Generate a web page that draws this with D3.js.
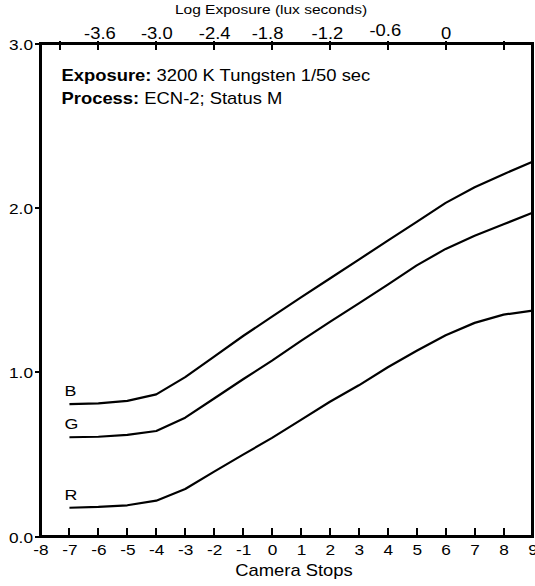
<!DOCTYPE html>
<html>
<head>
<meta charset="utf-8">
<script src="https://cdn.jsdelivr.net/npm/d3@7"></script>
<style>
  html, body { margin: 0; padding: 0; background: #fff; }
  svg { display: block; }
  text { font-family: "Liberation Sans", Arial, Helvetica, sans-serif; fill: #000; }
</style>
</head>
<body>
<svg id="chart" width="535" height="586"></svg>
<script>
// ---------------- data ----------------
const stops = [-7, -6, -5, -4, -3, -2, -1, 0, 1, 2, 3, 4, 5, 6, 7, 8, 9];
const blueDensity  = [0.805, 0.81, 0.825, 0.865, 0.97, 1.095, 1.22, 1.338, 1.455, 1.57, 1.685, 1.80, 1.915, 2.03, 2.125, 2.205, 2.28];
const greenDensity = [0.604, 0.607, 0.618, 0.642, 0.723, 0.84, 0.957, 1.07, 1.19, 1.306, 1.419, 1.533, 1.65, 1.75, 1.83, 1.90, 1.97];
const redDensity   = [0.175, 0.18, 0.19, 0.218, 0.289, 0.395, 0.498, 0.60, 0.71, 0.82, 0.92, 1.03, 1.13, 1.225, 1.30, 1.35, 1.375];
const seriesNames  = ["B", "G", "R"];

const stopTicks = [-8, -7, -6, -5, -4, -3, -2, -1, 0, 1, 2, 3, 4, 5, 6, 7, 8, 9];
const logETicks  = [-4.0, -3.6, -3.0, -2.4, -1.8, -1.2, -0.6, 0, 0.6];
const logELabels = ["", "-3.6", "-3.0", "-2.4", "-1.8", "-1.2", "-0.6", "0", ""];
const densityTicks  = [0, 1, 2, 3];
const densityLabels = ["0.0", "1.0", "2.0", "3.0"];

const xTitle = "Camera Stops";
const topTitle = "Log Exposure (lux seconds)";
const noteExposureKey = "Exposure:";
const noteExposureVal = " 3200 K Tungsten 1/50 sec";
const noteProcessKey = "Process:";
const noteProcessVal = " ECN-2; Status M";

// ---------------- layout ----------------
const SX = 1.15; // horizontal text stretch seen in the reference
const L = 40.5, R = 532.5, T = 43.5, B = 536.5;

const svg = d3.select("#chart");
const x = d3.scaleLinear().domain([-8, 9]).range([L, R]);
const y = d3.scaleLinear().domain([0, 3]).range([B, T]);
// log exposure = -1.8 + 0.3 * stop
const xTop = d3.scaleLinear().domain([-1.8 + 0.3 * -8, -1.8 + 0.3 * 9]).range([L, R]);

function stretchText(sel, fs) {
  sel.attr("font-size", fs).attr("fill", "#000")
     .each(function () {
       const t = d3.select(this);
       const xv = +t.attr("x") || 0;
       t.attr("x", xv / SX).attr("transform", `scale(${SX},1)`);
     });
}

function label(txt, px, py, fs, anchor, weight) {
  return svg.append("text")
    .attr("transform", `translate(${px},${py}) scale(${SX},1)`)
    .attr("text-anchor", anchor || "start")
    .attr("font-size", fs)
    .attr("font-weight", weight || "normal")
    .text(txt);
}

// frame
svg.append("rect")
  .attr("x", L).attr("y", T).attr("width", R - L).attr("height", B - T)
  .attr("fill", "none").attr("stroke", "#000").attr("stroke-width", 3)
  .attr("shape-rendering", "crispEdges");

// bottom axis (camera stops) - labels via axis, crisp tick marks from the same scale
const gB = svg.append("g").attr("transform", `translate(0,${B})`)
  .call(d3.axisBottom(x).tickValues(stopTicks).tickFormat(d => d).tickSizeInner(0).tickSizeOuter(0).tickPadding(0));
gB.select(".domain").remove();
gB.selectAll(".tick line").remove();
gB.selectAll(".tick text").attr("y", 18.5).attr("dy", null).attr("font-family", "Liberation Sans, Arial, sans-serif");
stretchText(gB.selectAll(".tick text"), 15);
svg.append("g").attr("shape-rendering", "crispEdges")
  .selectAll("rect").data(stopTicks).join("rect")
  .attr("x", d => Math.round(x(d)) - 1).attr("width", 2)
  .attr("y", 528).attr("height", 9)
  .attr("fill", "#000");

// top axis (log exposure)
const gT = svg.append("g").attr("transform", `translate(0,${T})`)
  .call(d3.axisTop(xTop).tickValues(logETicks).tickFormat((d, i) => logELabels[i]).tickSizeInner(0).tickSizeOuter(0).tickPadding(0));
gT.select(".domain").remove();
gT.selectAll(".tick line").remove();
gT.selectAll(".tick text").attr("dy", null).attr("font-family", "Liberation Sans, Arial, sans-serif");
stretchText(gT.selectAll(".tick text"), 16);
gT.selectAll(".tick text")
  .attr("x", d => (d === -1.8 ? -5 : d === -1.2 ? -3 : d === -0.6 ? -3 : d === -3.6 ? 1 : 0) / SX)
  .attr("y", d => (d === -0.6 ? -7.5 : -5));
svg.append("g").attr("shape-rendering", "crispEdges")
  .selectAll("rect").data(logETicks).join("rect")
  .attr("x", d => Math.round(xTop(d)) - 1).attr("width", 2)
  .attr("y", 41).attr("height", 9)
  .attr("fill", "#000");

// left axis (density)
const gL = svg.append("g").attr("transform", `translate(${L},0)`)
  .call(d3.axisLeft(y).tickValues(densityTicks).tickFormat((d, i) => densityLabels[i]).tickSizeInner(0).tickSizeOuter(0).tickPadding(7.5));
gL.select(".domain").remove();
gL.selectAll(".tick line").remove();
gL.selectAll(".tick text").attr("dy", "0.38em").attr("font-family", "Liberation Sans, Arial, sans-serif");
stretchText(gL.selectAll(".tick text"), 15);
svg.append("g").attr("shape-rendering", "crispEdges")
  .selectAll("rect").data(densityTicks).join("rect")
  .attr("x", 35).attr("width", 6)
  .attr("y", d => Math.round(y(d)) - 1).attr("height", 2)
  .attr("fill", "#000");

// curves
const series = [blueDensity, greenDensity, redDensity];
const line = d3.line().x((d, i) => x(stops[i])).y(d => y(d)).curve(d3.curveLinear);
svg.append("g").selectAll("path").data(series).join("path")
  .attr("d", d => line(d))
  .attr("fill", "none").attr("stroke", "#000").attr("stroke-width", 2.2)
  .attr("stroke-linejoin", "round");

// curve labels
series.forEach((s, i) => {
  label(seriesNames[i], x(stops[0]) - 5, y(s[0]) - 8, 15.5, "start");
});

// titles
label(xTitle, 294, 576, 16, "middle");
label(topTitle, 271, 14, 13.5, "middle");

// notes
const n1 = svg.append("text").attr("transform", `translate(61.5,80.5) scale(${SX},1)`).attr("font-size", 16);
n1.append("tspan").attr("font-weight", "bold").text(noteExposureKey);
n1.append("tspan").text(noteExposureVal);
const n2 = svg.append("text").attr("transform", `translate(61.5,103.5) scale(${SX},1)`).attr("font-size", 16);
n2.append("tspan").attr("font-weight", "bold").text(noteProcessKey);
n2.append("tspan").text(noteProcessVal);
</script>
</body>
</html>
